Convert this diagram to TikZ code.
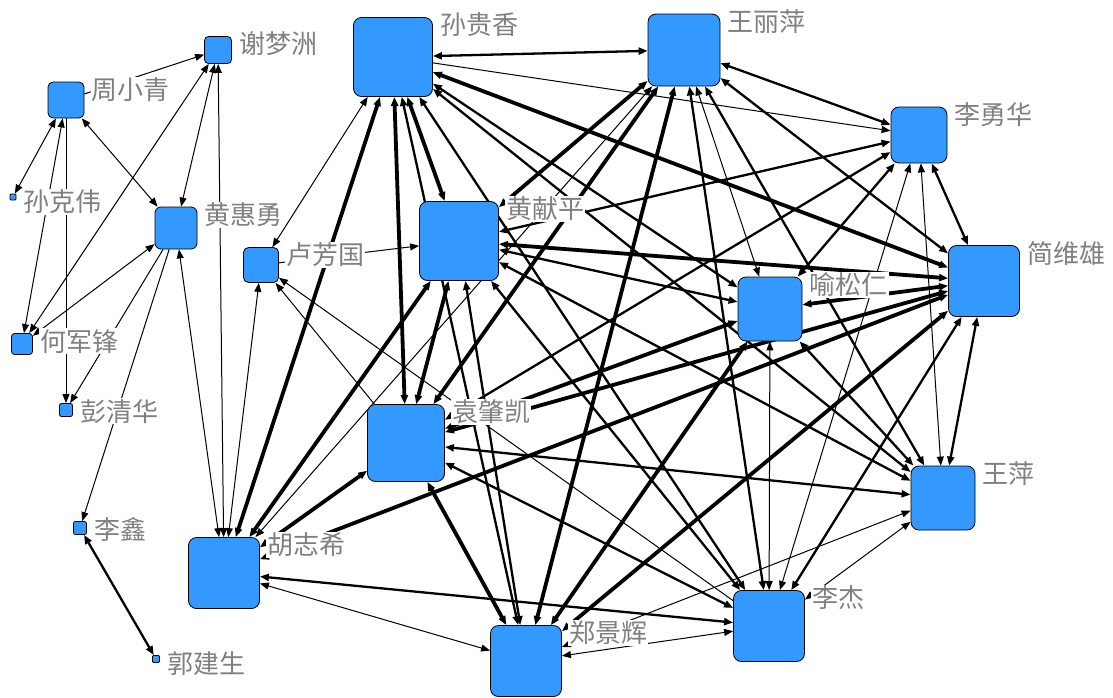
\documentclass[tikz,border=0pt]{standalone}
\usepackage{fontspec}
\newfontfamily\cjk{Noto Sans CJK SC}
\usepackage{tikz}
\usetikzlibrary{arrows.meta, positioning}
\definecolor{nodeblue}{RGB}{51, 153, 255}
\definecolor{namegray}{RGB}{128, 128, 128}
\pgfdeclarelayer{ties}
\pgfsetlayers{ties,main}

\begin{document}
\begin{tikzpicture}[
  x=1pt, y=-1pt,
  actor/.style={
    rectangle, rounded corners=8pt, draw=black, fill=nodeblue,
    line width=0.8pt, minimum size=#1, inner sep=0pt
  },
  small/.style={rounded corners=#1},
  nametag/.style={font=\cjk\fontsize{26}{28}\selectfont, text=namegray,
    fill=white, inner sep=1pt, anchor=west},
  bi/.style={{Triangle[length=9pt, width=7pt]}-{Triangle[length=9pt, width=7pt]}},
  uni/.style={-{Triangle[length=9pt, width=7pt]}},
  lite/.style={line width=1pt},
  mid/.style={line width=2.3pt},
  heavy/.style={line width=3.8pt},
]

\useasboundingbox (0,0) rectangle (1113,697);

% Left group
\node[actor=27, small=4pt]   (xm) at (218, 50)  {};
\node[actor=36, small=5pt]   (zx) at (66, 100)  {};
\node[actor=6, small=1pt]    (kw) at (13, 197)  {};
\node[actor=42, small=6pt]   (hh) at (176, 228) {};
\node[actor=35, small=5pt]   (lf) at (261, 265) {};
\node[actor=21, small=3pt]   (jf) at (22, 344)  {};
\node[actor=13, small=2pt]   (pq) at (66, 410)  {};
\node[actor=13, small=2pt]   (lx) at (80, 528)  {};
\node[actor=7, small=1pt]    (gj) at (156, 659) {};

% Core group
\node[actor=79] (sg) at (393, 57)  {};
\node[actor=72] (wl) at (684, 50)  {};
\node[actor=56] (ly) at (919, 135) {};
\node[actor=71] (jw) at (984, 281) {};
\node[actor=64] (ys) at (770, 309) {};
\node[actor=79] (hx) at (459, 241) {};
\node[actor=77] (yz) at (406, 443) {};
\node[actor=64] (wp) at (943, 498) {};
\node[actor=71] (lj) at (769, 626) {};
\node[actor=71] (zj) at (526, 661) {};
\node[actor=71] (hz) at (224, 573) {};

\begin{pgfonlayer}{ties}
\fill[white] (0,0) rectangle (1113,697);

% Left group ties
\draw[bi, lite]  (zx) -- (kw);
\draw[bi, lite]  (zx) -- (jf);
\draw[uni, lite] (zx) -- (pq);
\draw[bi, lite]  (zx) -- (hh);
\draw[uni, lite] (zx) -- (xm);
\draw[bi, lite]  (xm) -- (jf);
\draw[bi, lite]  (xm) -- (hh);
\draw[bi, lite]  (xm) -- (hz);
\draw[bi, lite]  (jf) -- (hh);
\draw[uni, lite] (hh) -- (pq);
\draw[uni, lite] (hh) -- (lx);
\draw[bi, lite]  (hh) -- (hz);
\draw[bi, mid]   (lx) -- (gj);

% Ties of lf
\draw[bi, lite]  (sg) -- (lf);
\draw[uni, lite] (lf) -- (hx);
\draw[bi, lite]  (hz) -- (lf);
\draw[uni, lite] (yz) -- (lf);
\draw[uni, lite] (lj) -- (lf);

% Ties of sg
\draw[bi, mid]   (sg) -- (wl);
\draw[uni, lite] (sg) -- (ly);
\draw[bi, heavy] (sg) -- (jw);
\draw[bi, mid]   (sg) -- (ys);
\draw[bi, heavy] (sg) -- (hx);
\draw[bi, heavy] (sg) -- (yz);
\draw[bi, mid]   (sg) -- (wp);
\draw[bi, mid]   (sg) -- (lj);
\draw[bi, mid]   (sg) -- (zj);
\draw[bi, heavy] (sg) -- (hz);

% Ties of wl
\draw[bi, mid]   (wl) -- (ly);
\draw[bi, mid]   (wl) -- (jw);
\draw[bi, lite]  (wl) -- (ys);
\draw[bi, heavy] (wl) -- (hx);
\draw[bi, heavy] (wl) -- (yz);
\draw[bi, mid]   (wl) -- (wp);
\draw[bi, mid]   (wl) -- (lj);
\draw[bi, heavy] (wl) -- (zj);
\draw[bi, lite]  (wl) -- (hz);

% Ties of ly
\draw[bi, mid]   (ly) -- (jw);
\draw[bi, mid]   (ly) -- (ys);
\draw[bi, mid]   (ly) -- (hx);
\draw[bi, mid]   (ly) -- (yz);
\draw[bi, lite]  (ly) -- (wp);
\draw[bi, lite]  (ly) -- (lj);

% Ties of jw
\draw[bi, heavy] (jw) -- (ys);
\draw[bi, heavy] (jw) -- (hx);
\draw[bi, heavy] (jw) -- (yz);
\draw[bi, mid]   (jw) -- (wp);
\draw[bi, mid]   (jw) -- (lj);
\draw[bi, heavy] (jw) -- (zj);
\draw[bi, heavy] (jw) -- (hz);

% Ties of ys
\draw[bi, mid]   (ys) -- (hx);
\draw[bi, heavy] (ys) -- (yz);
\draw[bi, mid]   (ys) -- (wp);
\draw[bi, lite]  (ys) -- (lj);
\draw[bi, heavy] (ys) -- (zj);

% Ties of hx
\draw[bi, heavy] (hx) -- (yz);
\draw[bi, mid]   (hx) -- (wp);
\draw[bi, mid]   (hx) -- (lj);
\draw[bi, mid]   (hx) -- (zj);
\draw[bi, heavy] (hx) -- (hz);

% Ties of yz
\draw[bi, mid]   (yz) -- (wp);
\draw[bi, mid]   (yz) -- (lj);
\draw[bi, heavy] (yz) -- (zj);
\draw[bi, heavy] (yz) -- (hz);

% Lower ties
\draw[bi, lite]  (wp) -- (lj);
\draw[bi, lite]  (wp) -- (zj);
\draw[bi, lite]  (lj) -- (zj);
\draw[bi, mid]   (lj) -- (hz);
\draw[bi, lite]  (zj) -- (hz);
\end{pgfonlayer}

% Names
\node[nametag] (xmN) at ([shift={(6,8)}]xm.north east) {谢梦洲};
\node[nametag] (zxN) at ([shift={(6,8)}]zx.north east) {周小青};
\node[nametag] (kwN) at ([shift={(6,8)}]kw.north east) {孙克伟};
\node[nametag] (hhN) at ([shift={(6,8)}]hh.north east) {黄惠勇};
\node[nametag] (lfN) at ([shift={(6,8)}]lf.north east) {卢芳国};
\node[nametag] (jfN) at ([shift={(6,8)}]jf.north east) {何军锋};
\node[nametag] (pqN) at ([shift={(6,8)}]pq.north east) {彭清华};
\node[nametag] (lxN) at ([shift={(6,8)}]lx.north east) {李鑫};
\node[nametag] (gjN) at ([shift={(6,8)}]gj.north east) {郭建生};
\node[nametag] (sgN) at ([shift={(6,8)}]sg.north east) {孙贵香};
\node[nametag] (wlN) at ([shift={(6,8)}]wl.north east) {王丽萍};
\node[nametag] (lyN) at ([shift={(6,8)}]ly.north east) {李勇华};
\node[nametag] (jwN) at ([shift={(6,8)}]jw.north east) {简维雄};
\node[nametag] (ysN) at ([shift={(6,8)}]ys.north east) {喻松仁};
\node[nametag] (hxN) at ([shift={(6,8)}]hx.north east) {黄献平};
\node[nametag] (yzN) at ([shift={(6,8)}]yz.north east) {袁肇凯};
\node[nametag] (wpN) at ([shift={(6,8)}]wp.north east) {王萍};
\node[nametag] (ljN) at ([shift={(6,8)}]lj.north east) {李杰};
\node[nametag] (zjN) at ([shift={(6,8)}]zj.north east) {郑景辉};
\node[nametag] (hzN) at ([shift={(6,8)}]hz.north east) {胡志希};

\end{tikzpicture}
\end{document}
